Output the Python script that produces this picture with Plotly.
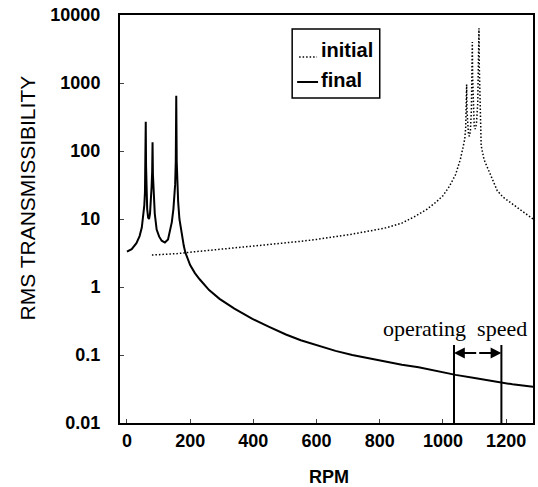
import plotly.graph_objects as go

# ---- data ----
final_rpm = [0, 15, 30, 40, 47, 52, 55, 57, 58.5, 59.5, 60.5, 62, 64, 67, 70, 73, 76, 78,
             79.8, 81, 82.2, 85, 88, 94, 102, 110, 120, 130, 138, 142, 147, 150, 152.5,
             154.5, 156, 157.5, 159.5, 162, 166, 173, 180, 185, 192, 200, 215, 230, 260,
             293, 340, 397, 450, 503, 550, 608, 660, 713, 770, 819, 870, 923, 980, 1040,
             1100, 1160, 1220, 1285]
final_val = [3.3, 3.6, 4.4, 5.6, 7.5, 11, 16, 25, 60, 270, 60, 22, 14, 10.5, 10, 12, 18, 30,
             50, 135, 45, 18, 12, 7, 5.5, 4.8, 4.5, 5, 7, 9, 14, 20, 32,
             70, 650, 70, 30, 18, 10, 6, 4, 3.2, 2.6, 2.1, 1.6, 1.3, 0.9,
             0.67, 0.48, 0.34, 0.26, 0.2, 0.165, 0.135, 0.115, 0.1, 0.088, 0.079, 0.072, 0.066, 0.058, 0.051,
             0.046, 0.041, 0.037, 0.034]

initial_rpm = [79, 120, 160, 200, 250, 300, 350, 400, 450, 503, 550, 600, 650, 713, 770, 819,
               870, 913, 950, 980, 1000, 1020, 1040, 1055, 1063, 1069, 1072, 1074, 1075, 1076,
               1078, 1081, 1084, 1087, 1090, 1092, 1093, 1094, 1096, 1099, 1102, 1106, 1110,
               1113, 1114, 1115, 1118, 1121, 1130, 1143, 1160, 1172, 1190, 1216, 1250, 1285]
initial_val = [2.95, 3.0, 3.1, 3.25, 3.45, 3.6, 3.8, 4.0, 4.2, 4.4, 4.7, 5.0, 5.4, 6.0, 6.7, 7.4,
               8.7, 11, 14, 18, 22, 30, 45, 75, 110, 150, 220, 400, 950, 400,
               220, 170, 165, 200, 400, 1200, 4000, 1200, 400, 230, 210, 250, 500,
               1800, 6400, 1800, 300, 120, 75, 54, 33, 26, 21, 17, 13, 10]

x_ticks = [0, 200, 400, 600, 800, 1000, 1200]
y_ticks = [0.01, 0.1, 1, 10, 100, 1000, 10000]
y_tick_labels = ["0.01", "0.1", "1", "10", "100", "1000", "10000"]

op_speed = [1035, 1185]

W, H = 538, 487
L, R, T, B = 120, 535, 15, 423


def px(xp):
    return (xp - L) / (R - L)


def py(yp):
    return (B - yp) / (B - T)


fig = go.Figure()
fig.add_trace(go.Scatter(x=initial_rpm, y=initial_val, mode="lines", name="initial",
                         line=dict(color="black", width=1.5, dash="1.5px,2px"), showlegend=False))
fig.add_trace(go.Scatter(x=final_rpm, y=final_val, mode="lines", name="final",
                         line=dict(color="black", width=2), showlegend=False))

font_sans = "Liberation Sans, Arial, sans-serif"
tick_font = dict(family=font_sans, size=18, color="black", weight="bold")

fig.update_layout(
    width=W, height=H,
    margin=dict(l=L, r=W - R, t=T, b=H - B),
    paper_bgcolor="white", plot_bgcolor="white",
    xaxis=dict(range=[-22, 1285], tickvals=x_ticks, ticks="inside", ticklen=4,
               showline=True, linecolor="black", linewidth=2, mirror=True,
               showgrid=False, zeroline=False, tickfont=tick_font),
    yaxis=dict(type="log", range=[-2, 4], tickvals=y_ticks, ticktext=y_tick_labels,
               ticks="inside", ticklen=4, showline=True, linecolor="black", linewidth=2,
               mirror=True, showgrid=False, zeroline=False, ticklabelstandoff=14,
               tickfont=tick_font),
)

shapes = []
# legend box and samples
shapes.append(dict(type="rect", xref="paper", yref="paper", x0=px(293), x1=px(381),
                   y0=py(98), y1=py(29), line=dict(color="black", width=1.5)))
shapes.append(dict(type="line", xref="paper", yref="paper", x0=px(300), x1=px(318),
                   y0=py(57), y1=py(57), line=dict(color="black", width=1.5, dash="1.5px,2px")))
shapes.append(dict(type="line", xref="paper", yref="paper", x0=px(298), x1=px(319),
                   y0=py(82), y1=py(82), line=dict(color="black", width=2)))
# operating speed markers
for s in op_speed:
    shapes.append(dict(type="line", xref="x", yref="paper", x0=s, x1=s, y0=0, y1=py(345),
                       line=dict(color="black", width=2)))
fig.update_layout(shapes=shapes)

mid = (op_speed[0] + op_speed[1]) / 2
annotations = [
    dict(text="initial", xref="paper", yref="paper", x=px(320), y=py(50), xanchor="left",
         yanchor="middle", showarrow=False,
         font=dict(family=font_sans, size=20, color="black", weight="bold")),
    dict(text="final", xref="paper", yref="paper", x=px(320), y=py(80), xanchor="left",
         yanchor="middle", showarrow=False,
         font=dict(family=font_sans, size=20, color="black", weight="bold")),
    dict(text="RMS TRANSMISSIBILITY", xref="paper", yref="paper", x=px(28), y=py(198),
         textangle=-90, showarrow=False, xanchor="center", yanchor="middle",
         font=dict(family=font_sans, size=21, color="black")),
    dict(text="RPM", xref="paper", yref="paper", x=px(330), y=py(477), showarrow=False,
         xanchor="center", yanchor="middle",
         font=dict(family=font_sans, size=18, color="black", weight="bold")),
    dict(text="operating&nbsp;&nbsp;speed", xref="paper", yref="paper", x=px(382), y=py(328),
         xanchor="left", yanchor="middle", showarrow=False,
         font=dict(family="Liberation Serif, Times New Roman, serif", size=22, color="black")),
]
for end in op_speed:
    annotations.append(dict(text="", x=end, y=py(353), xref="x", yref="paper",
                            ax=mid, ay=0, axref="x", ayref="pixel", showarrow=True,
                            arrowhead=2, arrowsize=1.2, arrowwidth=1.8, arrowcolor="black",
                            standoff=0, startstandoff=0))
fig.update_layout(annotations=annotations)

fig.write_html("out.html", config={"displayModeBar": False},
               post_script="document.body.style.margin='0';document.body.style.padding='0';")
